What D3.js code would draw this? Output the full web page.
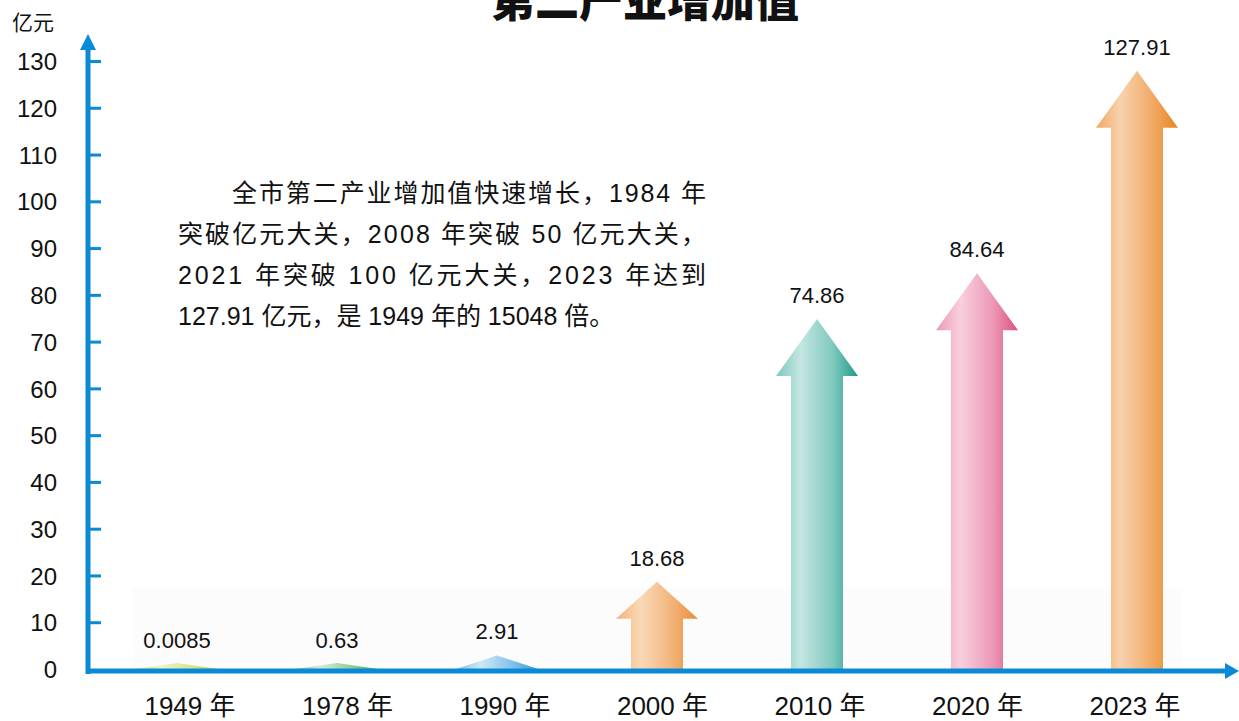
<!DOCTYPE html>
<head>
  <meta charset="utf-8">
  <title>第二产业增加值</title>
  <style>
    body { margin: 0; background: #fff; }
    svg { display: block; }
    text { font-family: "Liberation Sans", "Noto Sans CJK SC", sans-serif; fill: #111; }
  </style>
</head>
<body>
<svg width="1239" height="721"></svg>
<script src="https://d3js.org/d3.v7.min.js"></script>
<script>

  // data
  const years = ["1949", "1978", "1990", "2000", "2010", "2020", "2023"];
  const values = [0.0085, 0.63, 2.91, 18.68, 74.86, 84.64, 127.91];
  const valueLabels = ["0.0085", "0.63", "2.91", "18.68", "74.86", "84.64", "127.91"];
  const yTicks = [0, 10, 20, 30, 40, 50, 60, 70, 80, 90, 100, 110, 120, 130];
  // light / mid / dark for each arrow
  const arrowColors = [
    ["#eef3c8", "#d6e28e", "#b7c95a"],
    ["#d3ecd3", "#8ccb92", "#4ea85c"],
    ["#cfe8f7", "#7fc0ea", "#3a97d6"],
    ["#f9d9b8", "#f2b277", "#ea8a30"],
    ["#c4e6e1", "#7ec8bd", "#1f9a8a"],
    ["#f8d0de", "#ec97b5", "#db527f"],
    ["#f7d2ae", "#f1a862", "#e6861e"]
  ];
  const noteLines = [
    "全市第二产业增加值快速增长，1984 年",
    "突破亿元大关，2008 年突破 50 亿元大关，",
    "2021 年突破 100 亿元大关，2023 年达到",
    "127.91 亿元，是 1949 年的 15048 倍。"
  ];

  const svg = d3.select("svg");
  const axisColor = "#0a89d6";

  const x = d3.scalePoint().domain(years).range([177, 1137]);
  const xLab = d3.scalePoint().domain(years).range([190, 1135]);
  const y = d3.scaleLinear().domain([0, 130]).range([669, 61]);

  // gradients
  const defs = svg.append("defs");
  arrowColors.forEach((c, i) => {
    const g = defs.append("linearGradient")
      .attr("id", "grad" + i)
      .attr("x1", "0%").attr("x2", "100%").attr("y1", "0%").attr("y2", "0%");
    g.append("stop").attr("offset", "0%").attr("stop-color", c[1]);
    g.append("stop").attr("offset", "30%").attr("stop-color", c[0]);
    g.append("stop").attr("offset", "70%").attr("stop-color", c[1]);
    g.append("stop").attr("offset", "100%").attr("stop-color", c[2]);
  });

  // faint backdrop behind the low arrows
  svg.append("rect")
    .attr("x", 133).attr("y", 588)
    .attr("width", 1050).attr("height", 80)
    .attr("fill", "#fcfcfc");

  // title (cut off at the top like the original)
  svg.append("text")
    .attr("x", 645).attr("y", 17)
    .attr("text-anchor", "middle")
    .attr("font-size", 44)
    .attr("font-weight", 900)
    .style("font-family", "'Noto Sans CJK SC', sans-serif")
    .text("第二产业增加值");

  svg.append("text")
    .attr("x", 12).attr("y", 30)
    .attr("font-size", 21)
    .text("亿元");

  // arrows
  const headW = 82, shaftW = 52;
  function arrowPath(d, i) {
    const cx = x(years[i]);
    const base = y(0);
    let h = Math.max(base - y(d), 6);
    const tip = base - h;
    if (h <= 37) {
      return `M${cx - headW / 2},${base}L${cx},${tip}L${cx + headW / 2},${base}Z`;
    }
    const headH = Math.min(57, Math.max(37, h * 0.42));
    const hb = tip + headH;
    return `M${cx - shaftW / 2},${base}L${cx - shaftW / 2},${hb}L${cx - headW / 2},${hb}` +
      `L${cx},${tip}L${cx + headW / 2},${hb}L${cx + shaftW / 2},${hb}L${cx + shaftW / 2},${base}Z`;
  }

  svg.append("g")
    .selectAll("path")
    .data(values)
    .enter().append("path")
    .attr("d", arrowPath)
    .attr("fill", (d, i) => "url(#grad" + i + ")");

  svg.append("g")
    .selectAll("text")
    .data(values)
    .enter().append("text")
    .attr("x", (d, i) => x(years[i]))
    .attr("y", d => Math.min(y(d) - 16, 648))
    .attr("text-anchor", "middle")
    .attr("font-size", 22)
    .text((d, i) => valueLabels[i]);

  // y axis
  const yAxis = svg.append("g")
    .attr("transform", "translate(88,0)")
    .call(d3.axisLeft(y).tickValues(yTicks).tickSize(-13).tickPadding(31));
  yAxis.select(".domain").remove();
  yAxis.selectAll(".tick line").attr("stroke", axisColor).attr("stroke-width", 3)
    .filter(d => d === 0).remove();
  yAxis.selectAll(".tick text")
    .attr("dy", "0.36em")
    .style("font-size", "24px")
    .style("font-family", "'Liberation Sans', sans-serif")
    .attr("fill", "#111");

  // axis lines with arrowheads
  svg.append("line")
    .attr("x1", 88).attr("x2", 88).attr("y1", 674).attr("y2", 46)
    .attr("stroke", axisColor).attr("stroke-width", 5);
  svg.append("path")
    .attr("d", "M80,50L88,34L96,50Z")
    .attr("fill", axisColor);
  svg.append("line")
    .attr("x1", 86).attr("x2", 1228).attr("y1", 671).attr("y2", 671)
    .attr("stroke", axisColor).attr("stroke-width", 5);
  svg.append("path")
    .attr("d", "M1225,663L1239,671L1225,679Z")
    .attr("fill", axisColor);

  // x labels
  svg.append("g")
    .selectAll("text")
    .data(years)
    .enter().append("text")
    .attr("x", d => xLab(d))
    .attr("y", 715)
    .attr("text-anchor", "middle")
    .attr("font-size", 26)
    .text(d => d + " 年");

  // note paragraph
  const note = svg.append("g")
    .style("font-family", "'Liberation Serif', 'Noto Sans CJK SC', serif");
  note.selectAll("text")
    .data(noteLines)
    .enter().append("text")
    .attr("x", (d, i) => i === 0 ? 232 : 178)
    .attr("y", (d, i) => 202 + i * 41)
    .attr("font-size", 25)
    .attr("textLength", (d, i) => i === 0 ? 474 : (i < 3 ? 528 : null))
    .attr("lengthAdjust", "spacing")
    .text(d => d);

</script>
</body>
